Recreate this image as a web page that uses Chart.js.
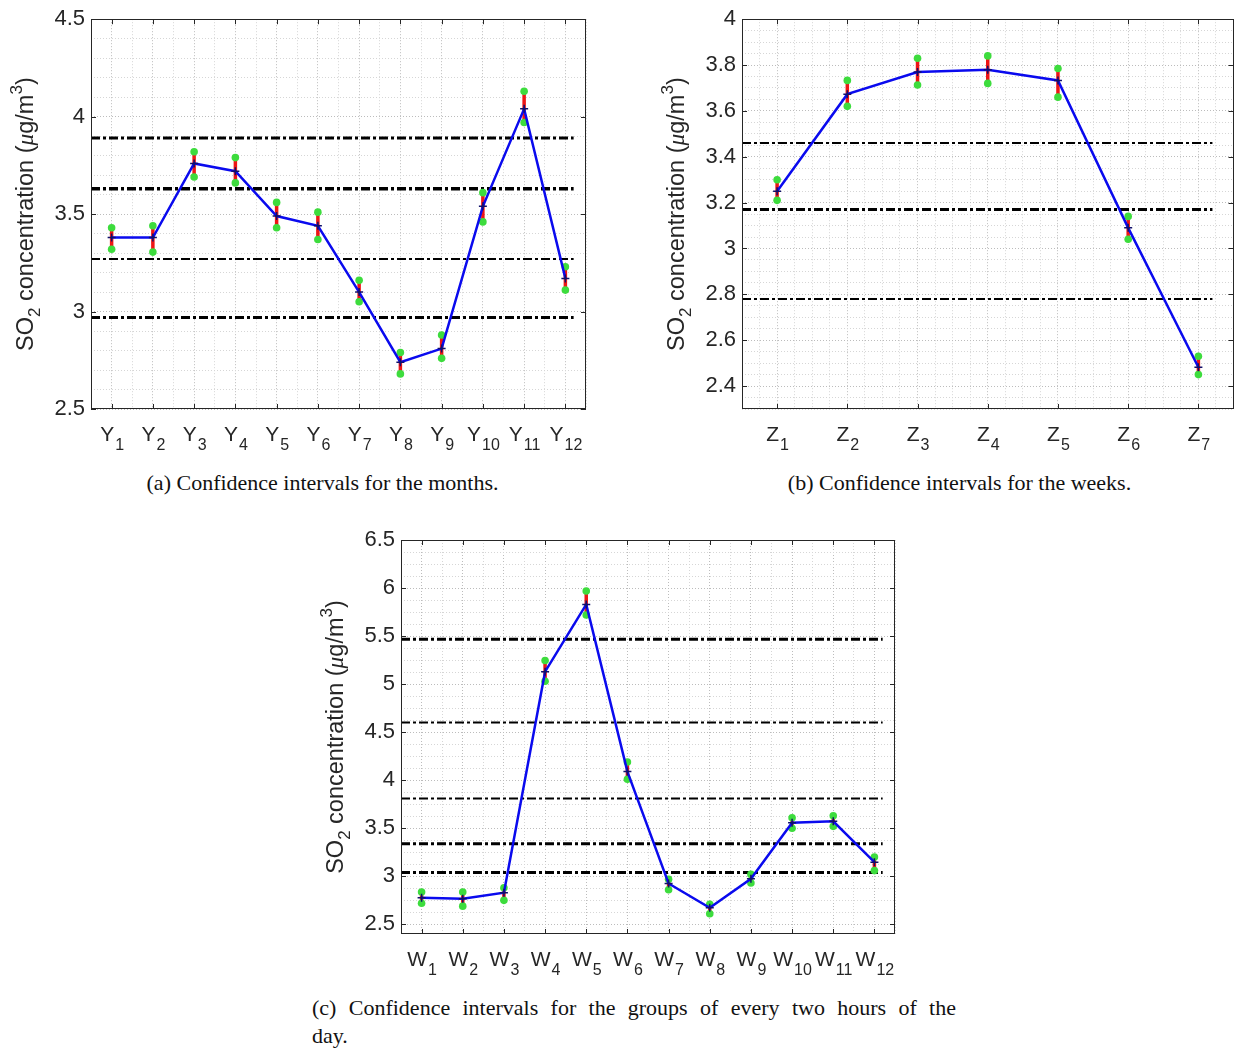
<!DOCTYPE html>
<html>
<head>
<meta charset="utf-8">
<script src="https://cdn.jsdelivr.net/npm/chart.js@4"></script>
<style>
  html, body { margin:0; padding:0; background:#fff; }
  body { width:1239px; height:1049px; position:relative; overflow:hidden; }
  canvas { position:absolute; }
  .cap { position:absolute; font-family:"Liberation Serif","Times New Roman",serif; font-size:22px; color:#111; line-height:26px; white-space:nowrap; }
</style>
</head>
<body>
<canvas id="ca" width="610" height="460" style="left:0px;top:0px"></canvas>
<canvas id="cb" width="599" height="460" style="left:640px;top:0px"></canvas>
<canvas id="cc" width="610" height="470" style="left:300px;top:520px"></canvas>
<div class="cap" style="left:0px;width:645px;top:470px;text-align:center">(a) Confidence intervals for the months.</div>
<div class="cap" style="left:680px;width:559px;top:470px;text-align:center">(b) Confidence intervals for the weeks.</div>
<div class="cap" style="left:312px;width:644px;top:994px;line-height:28px;white-space:normal;text-align:justify;text-align-last:justify">(c) Confidence intervals for the groups of every two hours of the<br>day.</div>
<script>
// ---------- DATA ----------
const catsA  = ['Y1','Y2','Y3','Y4','Y5','Y6','Y7','Y8','Y9','Y10','Y11','Y12'];
const meanA  = [3.38, 3.38, 3.76, 3.72, 3.49, 3.44, 3.10, 2.74, 2.81, 3.54, 4.04, 3.17];
const lowA   = [3.32, 3.305,3.69, 3.66, 3.43, 3.37, 3.05, 2.68, 2.76, 3.46, 3.97, 3.11];
const highA  = [3.43, 3.44, 3.82, 3.79, 3.56, 3.51, 3.16, 2.79, 2.88, 3.61, 4.13, 3.23];
const refA   = [3.89, 3.63, 3.27, 2.97];
const yTicksA = [2.5, 3, 3.5, 4, 4.5];

const catsB  = ['Z1','Z2','Z3','Z4','Z5','Z6','Z7'];
const meanB  = [3.25, 3.673, 3.77, 3.78, 3.733, 3.09, 2.482];
const lowB   = [3.21, 3.62, 3.713, 3.72, 3.66, 3.04, 2.45];
const highB  = [3.30, 3.733, 3.83, 3.84, 3.785, 3.14, 2.53];
const refB   = [3.46, 3.17, 2.78];
const yTicksB = [2.4, 2.6, 2.8, 3, 3.2, 3.4, 3.6, 3.8, 4];

const catsC  = ['W1','W2','W3','W4','W5','W6','W7','W8','W9','W10','W11','W12'];
const meanC  = [2.777, 2.767, 2.83, 5.13, 5.83, 4.09, 2.926, 2.673, 2.975, 3.557, 3.573, 3.147];
const lowC   = [2.72, 2.69, 2.75, 5.03, 5.72, 4.01, 2.86, 2.61, 2.93, 3.50, 3.52, 3.06];
const highC  = [2.836, 2.836, 2.88, 5.246, 5.97, 4.19, 2.97, 2.71, 3.02, 3.61, 3.63, 3.20];
const refC   = [5.468, 4.60, 3.81, 3.34, 3.04];
const yTicksC = [2.5, 3, 3.5, 4, 4.5, 5, 5.5, 6, 6.5];

// ---------- STYLE ----------
const refWidthsA = [3, 3.5, 2, 3];
const refWidthsB = [2, 3, 2];
const refWidthsC = [3, 2, 2, 3, 3];
const TXT = '#262626';
const FONT = '"Liberation Sans", Arial, sans-serif';

function near(v, arr) { return arr.some(t => Math.abs(t - v) < 1e-6); }
function isMult(v, s) { const q = v / s; return Math.abs(q - Math.round(q)) < 1e-6; }
function stepTicks(min, max, step) {
  const out = [];
  const k0 = Math.ceil(min / step - 1e-9), k1 = Math.floor(max / step + 1e-9);
  for (let k = k0; k <= k1; k++) out.push({ value: +(k * step).toFixed(6) });
  return out;
}

const decor = {
  id: 'decor',
  afterDraw(chart, args, o) {
    const { ctx, chartArea: a, scales: { x, y } } = chart;
    ctx.save();
    ctx.strokeStyle = TXT; ctx.lineWidth = 1;
    ctx.strokeRect(Math.round(a.left) + 0.5, Math.round(a.top) + 0.5,
                   Math.round(a.right) - Math.round(a.left) - 1, Math.round(a.bottom) - Math.round(a.top) - 1);
    ctx.beginPath();
    o.yTicks.forEach(v => {
      const py = Math.round(y.getPixelForValue(v)) + 0.5;
      ctx.moveTo(a.left, py); ctx.lineTo(a.left + 5, py);
      ctx.moveTo(a.right - 5, py); ctx.lineTo(a.right, py);
    });
    o.cats.forEach((c, i) => {
      const px = Math.round(x.getPixelForValue(i + 1)) + 0.5;
      ctx.moveTo(px, a.bottom); ctx.lineTo(px, a.bottom - 5);
      ctx.moveTo(px, a.top); ctx.lineTo(px, a.top + 5);
    });
    ctx.stroke();
    ctx.fillStyle = TXT;
    ctx.textBaseline = 'alphabetic';
    ctx.textAlign = 'left';
    const base = a.bottom + 31.5;
    o.cats.forEach((c, i) => {
      const m = c.match(/^([A-Za-z]+)(\d+)$/);
      const main = m[1], sub = m[2];
      ctx.font = '21px ' + FONT;
      const w1 = ctx.measureText(main).width;
      ctx.font = '16px ' + FONT;
      const w2 = ctx.measureText(sub).width;
      const px = x.getPixelForValue(i + 1);
      const sx = px - (w1 + w2) / 2;
      ctx.font = '21px ' + FONT;
      ctx.fillText(main, sx, base);
      ctx.font = '16px ' + FONT;
      ctx.fillText(sub, sx + w1 + 1, base + 9.5);
    });
    const parts = [
      { t: 'SO', f: '23.5px ' + FONT, dy: 0 },
      { t: '2', f: '17px ' + FONT, dy: 7 },
      { t: ' concentration (', f: '23.5px ' + FONT, dy: 0 },
      { t: 'μ', f: 'italic 23.5px "Liberation Serif", serif', dy: 0 },
      { t: 'g/m', f: '23.5px ' + FONT, dy: 0 },
      { t: '3', f: '17px ' + FONT, dy: -11 },
      { t: ')', f: '23.5px ' + FONT, dy: 0 }
    ];
    let total = 0;
    parts.forEach(p => { ctx.font = p.f; p.w = ctx.measureText(p.t).width; total += p.w; });
    ctx.translate(a.left - 58, (a.top + a.bottom) / 2);
    ctx.rotate(-Math.PI / 2);
    let cx = -total / 2;
    parts.forEach(p => { ctx.font = p.f; ctx.fillText(p.t, cx, p.dy); cx += p.w; });
    ctx.restore();
  }
};

function makeChart(id, cats, mean, low, high, refs, refW, yTicks, yMin, yMax, yMinor, xMinor, pad, yW, xH) {
  const n = cats.length;
  const xMin = 0.5, xMax = n + 0.5;
  const bars = [];
  cats.forEach((c, i) => { bars.push({ x: i + 1, y: low[i] }, { x: i + 1, y: high[i] }, { x: i + 1, y: null }); });
  const ends = [];
  cats.forEach((c, i) => { ends.push({ x: i + 1, y: low[i] }, { x: i + 1, y: high[i] }); });
  const meanPts = mean.map((v, i) => ({ x: i + 1, y: v }));
  const datasets = [];
  datasets.push({ data: meanPts, showLine: true, borderColor: '#0a0aee', borderWidth: 2.5,
    pointStyle: 'cross', pointRadius: 4, pointBorderColor: '#10106a', pointBorderWidth: 1.5, order: 0 });
  datasets.push({ data: ends, showLine: false, pointStyle: 'circle', pointRadius: 3.8,
    backgroundColor: '#3ddc3d', pointBorderWidth: 0, borderColor: '#3ddc3d', order: 1 });
  datasets.push({ data: bars, showLine: true, spanGaps: false, borderColor: '#ee1515', borderWidth: 3.5,
    pointRadius: 0, order: 2 });
  refs.forEach((v, k) => {
    datasets.push({ data: [{ x: xMin, y: v }, { x: xMax - 0.3, y: v }], showLine: true, borderColor: '#000',
      borderWidth: refW[k], borderDash: [9, 3, 3, 3], borderCapStyle: 'butt', pointRadius: 0, order: 3 });
  });
  return new Chart(document.getElementById(id), {
    type: 'scatter',
    data: { datasets },
    plugins: [decor],
    options: {
      responsive: false, animation: false, devicePixelRatio: 1,
      layout: { padding: pad },
      plugins: { legend: { display: false }, tooltip: { enabled: false },
        decor: { cats, yTicks } },
      scales: {
        x: {
          type: 'linear', min: xMin, max: xMax,
          afterBuildTicks: s => { s.ticks = stepTicks(xMin, xMax, xMinor); },
          afterFit: s => { s.height = xH; },
          ticks: { display: false, autoSkip: false },
          grid: { drawTicks: false, lineWidth: 1,
            color: c => (c.tick && isMult(c.tick.value, 1)) ? '#bcbcbc' : '#d6d6d6' },
          border: { display: false, dash: [1, 2] }
        },
        y: {
          type: 'linear', min: yMin, max: yMax,
          afterBuildTicks: s => { s.ticks = stepTicks(yMin, yMax, yMinor); },
          afterFit: s => { s.width = yW; },
          ticks: { padding: 6, color: TXT, autoSkip: false, font: { family: FONT, size: 22 },
            callback: v => near(v, yTicks) ? String(+v.toFixed(2)) : '' },
          grid: { drawTicks: false, lineWidth: 1,
            color: c => (c.tick && near(c.tick.value, yTicks)) ? '#bcbcbc' : '#d6d6d6' },
          border: { display: false, dash: [1, 2] }
        }
      }
    }
  });
}

makeChart('ca', catsA, meanA, lowA, highA, refA, refWidthsA, yTicksA, 2.5, 4.5, 0.1, 0.5,
  { top: 14, right: 24, bottom: 0, left: 0 }, 91, 51);
makeChart('cb', catsB, meanB, lowB, highB, refB, refWidthsB, yTicksB, 2.3, 4.0, 0.05, 0.25,
  { top: 14, right: 2, bottom: 0, left: 0 }, 102, 51);
makeChart('cc', catsC, meanC, lowC, highC, refC, refWidthsC, yTicksC, 2.4, 6.5, 0.125, 0.5,
  { top: 20, right: 15, bottom: 0, left: 0 }, 101, 56);
</script>
</body>
</html>
